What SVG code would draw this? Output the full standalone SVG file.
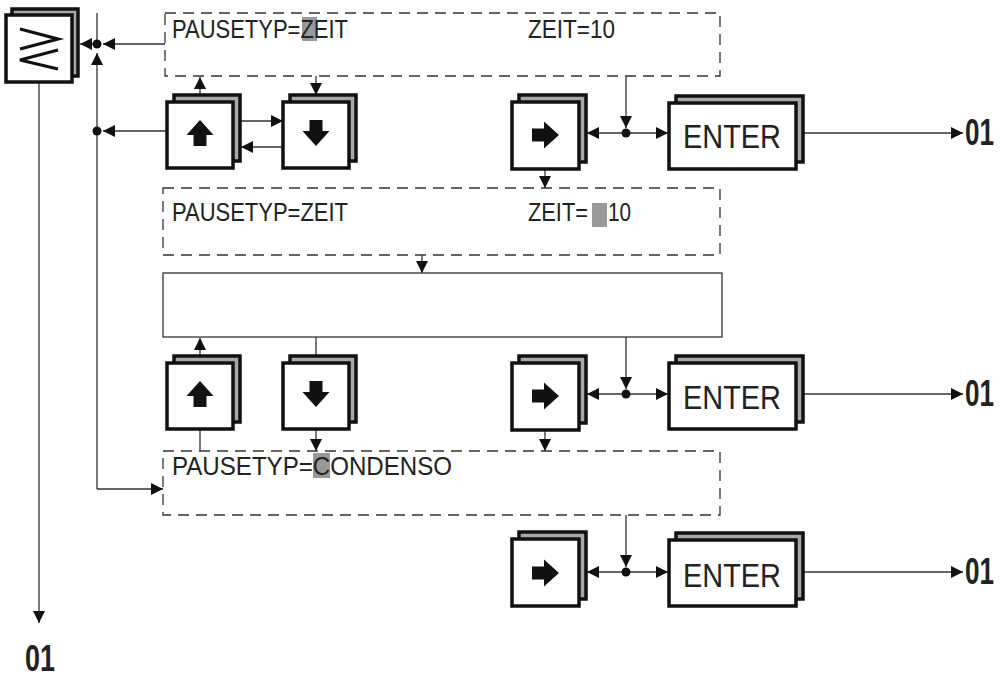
<svg xmlns="http://www.w3.org/2000/svg" width="1005" height="678" viewBox="0 0 1005 678">
<defs>
<style>
.bk{fill:#a8a8a8;stroke:#111;stroke-width:3.5}
.fr{fill:#fff;stroke:#111;stroke-width:3.5}
.dash{fill:none;stroke:#333;stroke-width:1.3;stroke-dasharray:11 7}
.solid{fill:#fff;stroke:#333;stroke-width:1.3}
.ln{fill:none;stroke:#333;stroke-width:1.3}
.ar{fill:none;stroke:#333;stroke-width:1.3;marker-end:url(#ah)}
.dot{fill:#111}
.gl{fill:#111}
.t{font-family:"Liberation Sans",Arial,sans-serif;font-size:26px;fill:#222}
.en{font-family:"Liberation Sans",Arial,sans-serif;font-size:33px;fill:#222}
.o1{font-family:"Liberation Sans",Arial,sans-serif;font-size:36px;font-weight:bold;fill:#222}
.hl{fill:#999}
</style>
<marker id="ah" markerUnits="userSpaceOnUse" markerWidth="13" markerHeight="13" refX="12" refY="6.5" orient="auto">
<path d="M0,0.5 L12,6.5 L0,12.5 z" fill="#111"/>
</marker>
</defs>

<g id="connectors">
<line class="ar" x1="165" y1="44" x2="103" y2="44"/>
<line class="ar" x1="93" y1="44" x2="80" y2="44"/>
<line class="ln" x1="97" y1="13" x2="97" y2="44"/>
<polyline class="ar" points="97,489 97,53"/>
<polyline class="ar" points="97,489 163,489"/>
<line class="ar" x1="167" y1="131" x2="103" y2="131"/>
<line class="ar" x1="200" y1="95" x2="200" y2="77"/>
<line class="ar" x1="316" y1="76" x2="316" y2="95"/>
<line class="ar" x1="240" y1="121" x2="283" y2="121"/>
<line class="ar" x1="283" y1="147" x2="241" y2="147"/>
<line class="ar" x1="626" y1="76" x2="626" y2="128"/>
<line class="ar" x1="626" y1="133" x2="587" y2="133"/>
<line class="ar" x1="626" y1="133" x2="668" y2="133"/>
<line class="ar" x1="803" y1="133" x2="963" y2="133"/>
<line class="ar" x1="545" y1="169" x2="545" y2="188"/>
<line class="ar" x1="422" y1="255" x2="422" y2="273"/>
<line class="ar" x1="200" y1="356" x2="200" y2="338"/>
<line class="ln" x1="316" y1="337" x2="316" y2="356"/>
<line class="ar" x1="626" y1="337" x2="626" y2="389"/>
<line class="ar" x1="626" y1="394" x2="587" y2="394"/>
<line class="ar" x1="626" y1="394" x2="668" y2="394"/>
<line class="ar" x1="803" y1="394" x2="963" y2="394"/>
<line class="ln" x1="200" y1="429" x2="200" y2="451"/>
<line class="ar" x1="316" y1="429" x2="316" y2="451"/>
<line class="ar" x1="545" y1="429" x2="545" y2="451"/>
<line class="ar" x1="626" y1="515" x2="626" y2="567"/>
<line class="ar" x1="626" y1="572" x2="587" y2="572"/>
<line class="ar" x1="626" y1="572" x2="668" y2="572"/>
<line class="ar" x1="803" y1="572" x2="963" y2="572"/>
<line class="ar" x1="39" y1="82" x2="39" y2="623"/>
<circle class="dot" cx="97" cy="44" r="4.5"/>
<circle class="dot" cx="97" cy="131" r="4.5"/>
<circle class="dot" cx="626" cy="133" r="4.5"/>
<circle class="dot" cx="626" cy="394" r="4.5"/>
<circle class="dot" cx="626" cy="572" r="4.5"/>
</g>

<g id="key-menu">
<rect class="bk" x="12" y="9" width="66" height="67"/>
<rect class="fr" x="6" y="15" width="66" height="67"/>
<polyline points="20,29 58,39 20,49" fill="none" stroke="#111" stroke-width="3.2"/>
<polyline points="58,50 20,60 58,69" fill="none" stroke="#111" stroke-width="3.2"/>
</g>

<g id="display1">
<rect class="dash" x="165" y="13" width="555" height="63"/>
<rect class="hl" x="302" y="17" width="15" height="24"/>
<text class="t" x="172" y="38" textLength="176" lengthAdjust="spacingAndGlyphs">PAUSETYP=ZEIT</text>
<text class="t" x="528" y="38" textLength="87" lengthAdjust="spacingAndGlyphs">ZEIT=10</text>
</g>

<g id="key-up1">
<rect class="bk" x="174" y="95" width="66" height="66"/>
<rect class="fr" x="167" y="102" width="66" height="66"/>
<path class="gl" d="M200,120 L213.5,135 L206.5,135 L206.5,146 L193.5,146 L193.5,135 L186.5,135 z"/>
</g>

<g id="key-down1">
<rect class="bk" x="290" y="95" width="66" height="66"/>
<rect class="fr" x="283" y="102" width="66" height="66"/>
<path class="gl" d="M316,146 L329.5,131 L322.5,131 L322.5,120 L309.5,120 L309.5,131 L302.5,131 z"/>
</g>

<g id="key-right1">
<rect class="bk" x="519" y="95" width="67" height="67"/>
<rect class="fr" x="512" y="102" width="67" height="67"/>
<path class="gl" d="M559,135 L544,121.5 L544,128.5 L532,128.5 L532,141.5 L544,141.5 L544,148.5 z"/>
</g>

<g id="enter1">
<rect class="bk" x="676" y="96" width="127" height="66"/>
<rect class="fr" x="669" y="103" width="127" height="66"/>
<text class="en" x="683" y="148" textLength="98" lengthAdjust="spacingAndGlyphs">ENTER</text>
</g>
<text class="o1" x="965" y="145" textLength="29" lengthAdjust="spacingAndGlyphs">01</text>

<g id="display2">
<rect class="dash" x="163" y="188" width="557" height="67"/>
<rect class="hl" x="592" y="203" width="15" height="24"/>
<text class="t" x="172" y="221" textLength="176" lengthAdjust="spacingAndGlyphs">PAUSETYP=ZEIT</text>
<text class="t" x="528" y="221" textLength="60" lengthAdjust="spacingAndGlyphs">ZEIT=</text>
<text class="t" x="608" y="221" textLength="23" lengthAdjust="spacingAndGlyphs">10</text>
</g>

<g id="display-blank">
<rect class="solid" x="163" y="273" width="559" height="64"/>
</g>

<g id="key-up3">
<rect class="bk" x="174" y="356" width="66" height="66"/>
<rect class="fr" x="167" y="363" width="66" height="66"/>
<path class="gl" d="M200,381 L213.5,396 L206.5,396 L206.5,407 L193.5,407 L193.5,396 L186.5,396 z"/>
</g>

<g id="key-down3">
<rect class="bk" x="290" y="356" width="66" height="66"/>
<rect class="fr" x="283" y="363" width="66" height="66"/>
<path class="gl" d="M316,407 L329.5,392 L322.5,392 L322.5,381 L309.5,381 L309.5,392 L302.5,392 z"/>
</g>

<g id="key-right3">
<rect class="bk" x="519" y="356" width="67" height="67"/>
<rect class="fr" x="512" y="363" width="67" height="67"/>
<path class="gl" d="M559,396 L544,382.5 L544,389.5 L532,389.5 L532,402.5 L544,402.5 L544,409.5 z"/>
</g>

<g id="enter3">
<rect class="bk" x="676" y="356" width="127" height="66"/>
<rect class="fr" x="669" y="363" width="127" height="66"/>
<text class="en" x="683" y="409" textLength="98" lengthAdjust="spacingAndGlyphs">ENTER</text>
</g>
<text class="o1" x="965" y="406" textLength="29" lengthAdjust="spacingAndGlyphs">01</text>

<g id="display3">
<rect class="dash" x="163" y="451" width="557" height="64"/>
<rect class="hl" x="313" y="453" width="17" height="25"/>
<text class="t" x="172" y="475" textLength="280" lengthAdjust="spacingAndGlyphs">PAUSETYP=CONDENSO</text>
</g>

<g id="key-right4">
<rect class="bk" x="519" y="532" width="67" height="67"/>
<rect class="fr" x="512" y="539" width="67" height="67"/>
<path class="gl" d="M559,573 L544,559.5 L544,566.5 L532,566.5 L532,579.5 L544,579.5 L544,586.5 z"/>
</g>

<g id="enter4">
<rect class="bk" x="676" y="533" width="127" height="66"/>
<rect class="fr" x="669" y="540" width="127" height="66"/>
<text class="en" x="683" y="587" textLength="98" lengthAdjust="spacingAndGlyphs">ENTER</text>
</g>
<text class="o1" x="965" y="584" textLength="29" lengthAdjust="spacingAndGlyphs">01</text>

<text class="o1" x="25" y="671" textLength="30" lengthAdjust="spacingAndGlyphs">01</text>
</svg>
